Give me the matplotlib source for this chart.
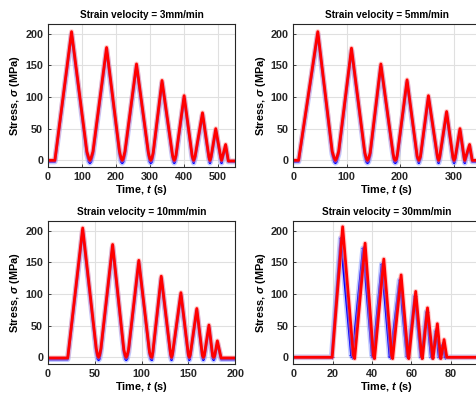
import matplotlib
matplotlib.use('Agg')
import matplotlib.pyplot as plt

plt.rcParams['font.family'] = ['Liberation Sans', 'DejaVu Sans']
plt.rcParams['font.weight'] = 'bold'
plt.rcParams['mathtext.fontset'] = 'custom'
plt.rcParams['mathtext.rm'] = 'Liberation Sans:bold'
plt.rcParams['mathtext.it'] = 'Liberation Sans:bold:italic'

titles = ['Strain velocity = 3mm/min', 'Strain velocity = 5mm/min',
          'Strain velocity = 10mm/min', 'Strain velocity = 30mm/min']
xlims = [550, 350, 200, 95]
xticks = [[0, 100, 200, 300, 400, 500], [0, 100, 200, 300],
          [0, 50, 100, 150, 200], [0, 20, 40, 60, 80]]
yticks = [0, 50, 100, 150, 200]

# 3mm/min
t_3 = [0, 20, 69, 114, 120, 123, 126, 132, 172, 210, 215, 218, 221, 226, 260, 295, 299, 302, 305, 309,
       335, 366, 369, 371, 373, 376, 400, 424, 428, 432, 454, 473, 476, 479, 493, 508, 510, 512, 522, 530, 550]
red_3 = [0, 0, 203, 14, 3, 0, 3, 14, 178, 14, 3, 0, 3, 14, 152, 12, 3, 0, 3, 12,
         126, 8, 2, 0, 2, 8, 102, 6, 0, 6, 75, 5, 0, 5, 50, 4, 0, 4, 25, -1, -1]
blue_3 = [-2, -2, 199, 10, -2, -4, -2, 10, 174, 10, -2, -4, -2, 10, 148, 9, -2, -4, -2, 9,
          122, 5, -2, -4, -2, 5, 98, 3, -4, 3, 71, 2, -4, 2, 46, 1, -4, 1, 21, -2, -2]

# 5mm/min
t_5 = [0, 10, 46, 73, 77, 79, 81, 85, 109, 134, 137, 139, 141, 144, 164, 187, 189, 191, 193, 195,
       213, 232, 235, 238, 253, 270, 272, 274, 287, 299, 301, 303, 312, 320, 321, 322, 330, 335, 350]
red_5 = [0, 0, 203, 14, 3, 0, 3, 14, 177, 12, 3, 0, 3, 12, 152, 10, 2, 0, 2, 10,
         127, 6, 0, 6, 102, 5, 0, 5, 77, 4, 0, 4, 50, 3, 0, 3, 25, 0, 0]
blue_5 = [-2, -2, 199, 10, -2, -4, -2, 10, 173, 8, -2, -4, -2, 8, 148, 7, -2, -4, -2, 7,
          123, 3, -4, 3, 98, 2, -4, 2, 73, 1, -4, 1, 46, 0, -4, 0, 21, -2, -2]

# 10mm/min
t_10 = [0, 21, 37, 51.5, 53, 54, 55, 56.5, 69, 81, 82.5, 83.5, 84.5, 86, 97, 108.5, 110, 111, 112,
        121, 131, 132, 133, 142, 150, 151, 152, 159, 165, 166, 167, 172, 176, 177, 178, 181, 185, 200]
red_10 = [-1, -1, 204, 14, 3, 0, 3, 14, 178, 12, 3, 0, 3, 12, 153, 8, 1, 0, 8,
          128, 5, 0, 5, 102, 4, 0, 4, 77, 3, 0, 3, 51, 2, 0, 2, 26, -1, -1]
blue_10 = [-3, -3, 199, 10, -2, -4, -2, 10, 174, 8, -2, -4, -2, 8, 149, 5, -3, -4, 5,
           124, 2, -4, 2, 98, 1, -4, 1, 73, 0, -4, 0, 47, -1, -4, -1, 22, -3, -3]

# 30mm/min
t_30_red = [0, 19.8, 25.1, 30.5, 31.2, 36.5, 40.7, 41.3, 46.0, 50.0, 50.5, 54.8, 58.3, 58.7,
            62.2, 65.2, 65.6, 68.2, 70.8, 71.0, 73.2, 74.8, 75.0, 76.6, 78.0, 95]
red_30 = [0, 0, 206, 4, -2, 180, 3, -2, 155, 3, -2, 130, 2, -2,
          104, 2, -2, 78, 1, -2, 53, 1, -2, 28, 0, 0]
t_30_blue = [0, 19.5, 24.1, 29.5, 30.0, 35.5, 40.0, 40.5, 45.0, 49.0, 49.4, 54.0, 57.7, 58.1,
             61.7, 64.7, 65.1, 67.7, 70.0, 70.4, 72.4, 74.0, 74.4, 75.8, 77.0, 95]
blue_30 = [0, 0, 188, 3, 0, 172, 3, 0, 147, 2, 0, 122, 2, 0,
           97, 1, 0, 72, 1, 0, 42, 1, 0, 20, 0, 0]

times_red = [t_3, t_5, t_10, t_30_red]
times_blue = [t_3, t_5, t_10, t_30_blue]
reds = [red_3, red_5, red_10, red_30]
blues = [blue_3, blue_5, blue_10, blue_30]

fig = plt.figure(figsize=(4.76, 3.94), dpi=100)
positions = [[0.101, 0.577, 0.393, 0.362], [0.616, 0.577, 0.393, 0.362],
             [0.101, 0.077, 0.393, 0.362], [0.616, 0.077, 0.393, 0.362]]

for i in range(4):
    ax = fig.add_axes(positions[i])
    ax.plot(times_blue[i], blues[i], color=(0.6, 0.65, 1.0), lw=4.0, alpha=0.6, solid_joinstyle='round')
    if i == 3:
        ax.plot(times_blue[i], blues[i], color='blue', lw=1.6, marker='+', ms=2.5, mew=0.6)
    else:
        ax.plot(times_blue[i], blues[i], color='blue', lw=1.8)
    ax.plot(times_red[i], reds[i], color=(1.0, 0.6, 0.6), lw=3.6, alpha=0.5, solid_joinstyle='round')
    ax.plot(times_red[i], reds[i], color='red', lw=2.0)
    ax.set_xlim(0, xlims[i])
    ax.set_ylim(-10, 215)
    ax.set_xticks(xticks[i])
    ax.set_yticks(yticks)
    ax.grid(True, color='#e0e0e0', lw=0.8)
    ax.set_axisbelow(True)
    ax.tick_params(direction='in', length=2.5, width=0.6, labelsize=7.8, colors='#262626', pad=3.5)
    for lab in ax.get_xticklabels() + ax.get_yticklabels():
        lab.set_fontweight('bold')
    for sp in ax.spines.values():
        sp.set_linewidth(0.8)
        sp.set_color('#262626')
    ax.set_title(titles[i], fontsize=7.2, fontweight='bold', pad=4)
    ax.set_xlabel('Time, $t$ (s)', fontsize=7.8, fontweight='bold', labelpad=1)
    ax.set_ylabel('Stress, $\\sigma$ (MPa)', fontsize=7.8, fontweight='bold', labelpad=2)

fig.savefig('out.png', dpi=100)
